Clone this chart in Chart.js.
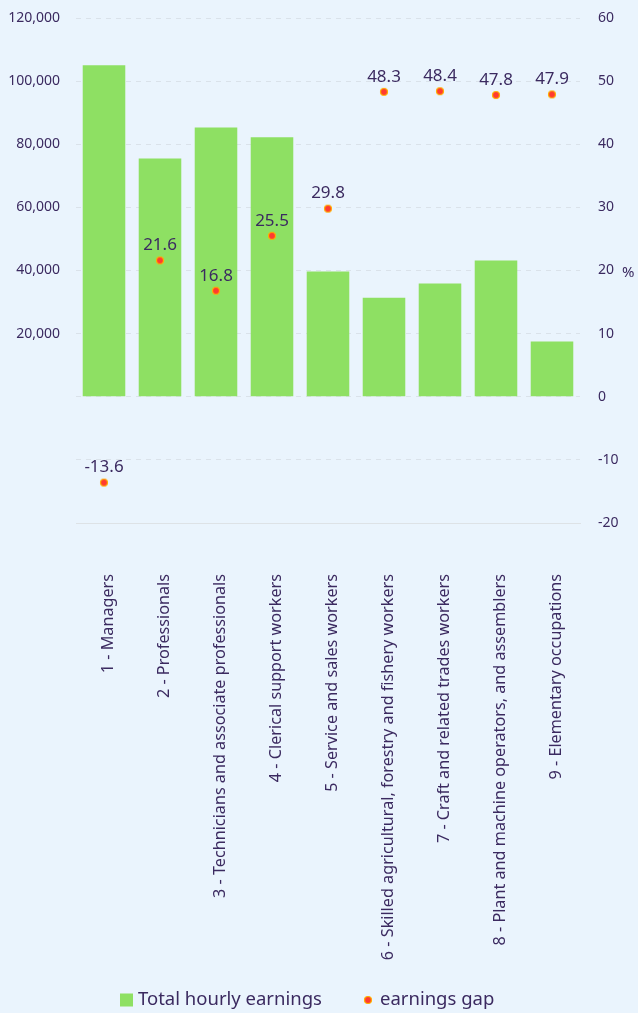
<!DOCTYPE html>
<html><head><meta charset="utf-8">
<script src="https://cdn.jsdelivr.net/npm/chart.js@4"></script>
<style>html,body{margin:0;padding:0;background:#eaf4fd;}canvas{display:block;}</style>
</head><body>
<canvas id="c" width="638" height="1013"></canvas>
<script>
const categories = ["1 - Managers","2 - Professionals","3 - Technicians and associate professionals","4 - Clerical support workers","5 - Service and sales workers","6 - Skilled agricultural, forestry and fishery workers","7 - Craft and related trades workers","8 - Plant and machine operators, and assemblers","9 - Elementary occupations"];
const earnings = [105000, 75500, 85300, 82200, 39700, 31400, 35900, 43200, 17500];
const gap = [-13.6, 21.6, 16.8, 25.5, 29.8, 48.3, 48.4, 47.8, 47.9];
const leftTicks = [-40000, 120000, 20000];
const rightTicks = [-20, 60, 10];
const seriesNames = ["Total hourly earnings", "earnings gap"];

const TXT = '#3b2a60';
const FONT = '"Noto Sans", "Open Sans", sans-serif';
const GRID = 'rgba(200,205,210,0.45)';
const BAR = '#8ee063';

const dot = document.createElement('canvas');
dot.width = 12; dot.height = 12;
(function(){const g=dot.getContext('2d');g.beginPath();g.arc(6,6,3.5,0,Math.PI*2);g.fillStyle='#ff3b30';g.fill();g.lineWidth=1.2;g.strokeStyle='#ffb000';g.stroke();})();

const bg = {id:'bg',beforeDraw(ch){const c=ch.ctx;c.save();c.fillStyle='#eaf4fd';c.fillRect(0,0,ch.width,ch.height);c.restore();}};
const labels = {id:'lbl',afterDatasetsDraw(ch){
  const c=ch.ctx;const meta=ch.getDatasetMeta(0);
  c.save();c.font='17px '+FONT;c.fillStyle=TXT;c.textAlign='center';c.textBaseline='middle';
  meta.data.forEach((p,i)=>{c.fillText(String(gap[i]),p.x,p.y-15);});
  const ya=ch.scales.y1;
  c.font='15px '+FONT;c.textAlign='left';
  c.fillText('%',622,(ya.top+ya.bottom)/2+2);
  // legend
  const ly=1000;
  c.font='18.5px '+FONT;c.textBaseline='middle';
  c.fillStyle=BAR;c.fillRect(120,ly-6.5,13,13);
  c.fillStyle=TXT;c.fillText(seriesNames[0],138,ly);
  c.drawImage(dot,368-6,ly-6);
  c.fillStyle=TXT;c.fillText(seriesNames[1],380,ly);
  c.restore();
}};

function fixPad(s){s.paddingTop=0;s.paddingBottom=0;}

new Chart(document.getElementById('c'),{
  data:{labels:categories,datasets:[
    {type:'scatter',label:seriesNames[1],data:gap.map((v,i)=>({x:categories[i],y:v})),yAxisID:'y1',xAxisID:'x',
     backgroundColor:'#ff3b30',borderColor:'#ffb000',borderWidth:1,pointRadius:3.2,pointStyle:dot,order:0},
    {type:'bar',label:seriesNames[0],data:earnings,yAxisID:'y',backgroundColor:BAR,
     barPercentage:0.76,categoryPercentage:1,order:1}
  ]},
  plugins:[bg,labels],
  options:{
    responsive:false,animation:false,
    layout:{padding:{top:18,left:0,right:0,bottom:45}},
    plugins:{legend:{display:false},tooltip:{enabled:false}},
    scales:{
      x:{type:'category',labels:categories,offset:true,
        grid:{display:false,drawTicks:false},
        border:{display:true,color:'#dde2e6'},
        ticks:{color:TXT,font:{size:16.2,family:FONT},minRotation:90,maxRotation:90,autoSkip:false,padding:51,labelOffset:4},
        afterFit(s){s.height=445;s.paddingLeft=0;s.paddingRight=0;}},
      y:{position:'left',min:leftTicks[0],max:leftTicks[1],
        ticks:{stepSize:leftTicks[2],color:TXT,font:{size:14,family:FONT},padding:16,
          callback:v=>v>0?v.toLocaleString('en-US'):''},
        grid:{color:GRID,drawTicks:false},border:{display:false,dash:[5,5]},
        afterFit(s){s.width=76;fixPad(s);}},
      y1:{position:'right',min:rightTicks[0],max:rightTicks[1],
        ticks:{stepSize:rightTicks[2],color:TXT,font:{size:14,family:FONT},padding:18},
        grid:{display:false,drawTicks:false},border:{display:false},
        afterFit(s){s.width=58;fixPad(s);}}
    }
  }
});
</script>
</body></html>
